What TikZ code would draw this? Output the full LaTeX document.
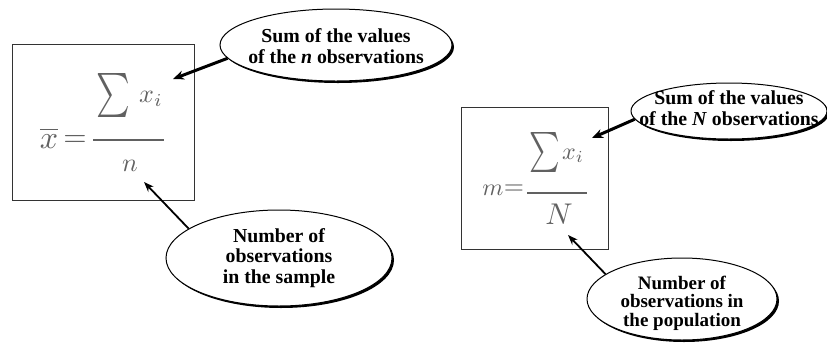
\documentclass[tikz,border=0pt]{standalone}
\usepackage{fontspec}
\setmainfont{Liberation Serif}
\usepackage{graphicx}
\usetikzlibrary{shapes.geometric,shadows,arrows.meta}
\begin{document}
\begin{tikzpicture}[x=1pt,y=-1pt,
  bubble/.style={ellipse,draw=black,line width=1pt,fill=white,inner sep=0pt,
    drop shadow={shadow xshift=2pt,shadow yshift=-2pt,opacity=1,fill=black}},
  bubbletext/.style={align=center,font=\bfseries\fontsize{19.8}{20.5}\selectfont,inner sep=0pt},
  formbox/.style={draw=black!80,line width=1pt,inner sep=0pt},
  mathtext/.style={text=black!62,inner sep=0pt},
  fracline/.style={draw=black!62,line width=1.4pt},
  thickarrow/.style={-{Stealth[length=11pt,width=9pt]},line width=3pt},
  thinarrow/.style={-{Stealth[length=10pt,width=7.5pt]},line width=1.8pt}]
\useasboundingbox (0,0) rectangle (827,346);

% left formula box
\node[formbox,minimum width=182pt,minimum height=156pt] (b1) at (103,122) {};
\node[mathtext] (xbar) at (49,138) {\scalebox{3.2}{$\overline{x}$}};
\node[mathtext] (eq1) at (75,141) {\scalebox{3.0}{$=$}};
\draw[fracline] (93,140) -- (164,140);
\node[mathtext] (sum1) at (113,95) {\scalebox{3.2}[4.4]{$\sum$}};
\node[mathtext] (xi1) at (151,99) {\scalebox{2.6}{$x_i$}};
\node[mathtext] (n1) at (130,166) {\scalebox{2.6}{$n$}};

% right formula box
\node[formbox,minimum width=147pt,minimum height=142pt] (b2) at (534.5,178) {};
\node[mathtext] (m2) at (493,190) {\scalebox{2.4}{$m$}};
\node[mathtext] (eq2) at (514,190) {\scalebox{2.6}{$=$}};
\draw[fracline] (527,193) -- (587,193);
\node[mathtext] (sum2) at (545,152) {\scalebox{2.9}[4.0]{$\sum$}};
\node[mathtext] (xi2) at (573,156) {\scalebox{2.4}{$x_i$}};
\node[mathtext] (N2) at (559,214) {\scalebox{3.0}{$N$}};

% bubbles
\node[bubble,minimum width=232pt,minimum height=72pt] (e1) at (336,45) {};
\node[bubbletext] (e1t) at (336,46) {Sum of the values\\of the \textit{n} observations};
\node[bubble,minimum width=226pt,minimum height=96pt] (e2) at (279,258) {};
\node[bubbletext] (e2t) at (279,258) {Number of\\observations\\in the sample};
\node[bubble,minimum width=196pt,minimum height=56pt] (e3) at (729,111) {};
\node[bubbletext] (e3t) at (729,108) {Sum of the values\\of the \textit{N} observations};
\node[bubble,minimum width=190pt,minimum height=82pt] (e4) at (682,299) {};
\node[bubbletext,font=\bfseries\fontsize{19}{18.5}\selectfont] (e4t) at (682,303) {Number of\\observations in\\the population};

% arrows
\coordinate (t1) at (173,79);
\coordinate (t2) at (144,182);
\coordinate (t3) at (592,138);
\coordinate (t4) at (568,235);
\draw[thickarrow] (e1.187) -- (t1);
\draw[thinarrow] (e2.162) -- (t2);
\draw[thickarrow] (e3.185) -- (t3);
\draw[thinarrow] (e4.162) -- (t4);
\end{tikzpicture}
\end{document}
